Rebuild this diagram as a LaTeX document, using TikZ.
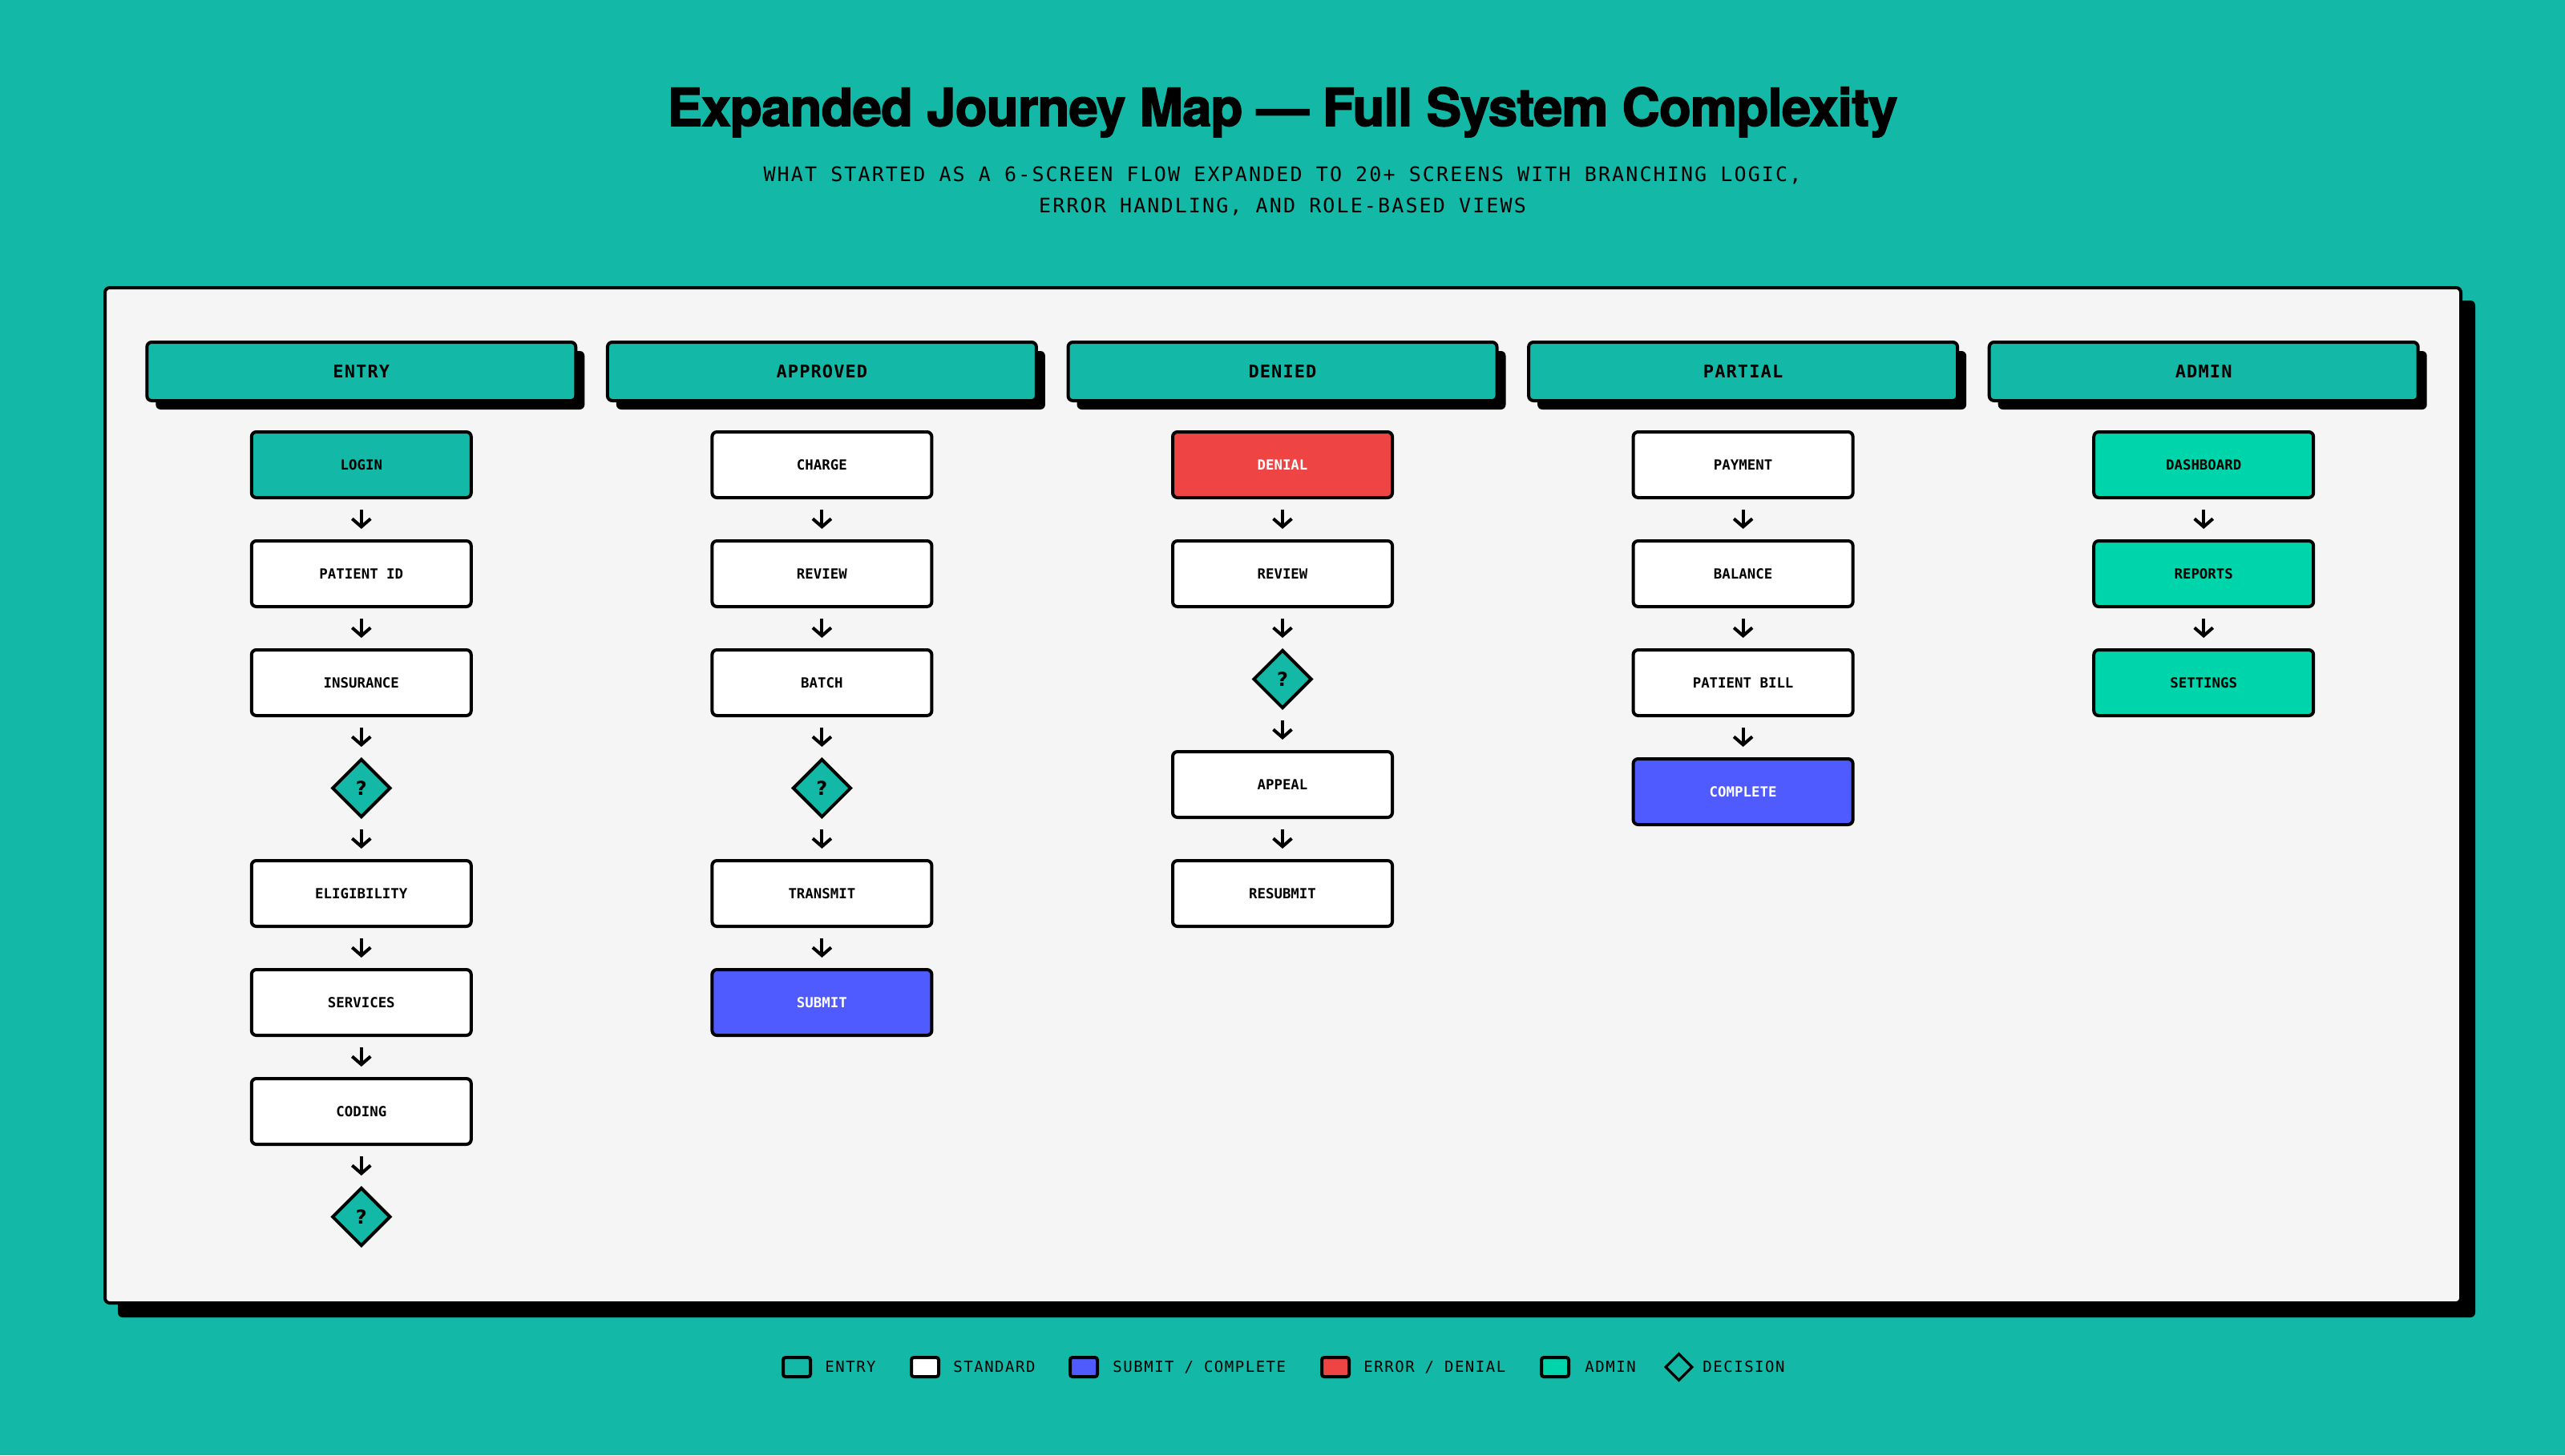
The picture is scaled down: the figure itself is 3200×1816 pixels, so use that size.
\documentclass[tikz,border=0pt]{standalone}
\usepackage{fontspec}
\usetikzlibrary{shapes.geometric,arrows.meta,shadows}
\newfontfamily\titlefont{TeX Gyre Heros}[BoldFeatures={FakeBold=2.5}, LetterSpace=-1]
\newfontfamily\boxfont{DejaVu Sans Mono}
\newfontfamily\subfont{DejaVu Sans Mono}[LetterSpace=8.5]
\newfontfamily\headfont{DejaVu Sans Mono}[LetterSpace=5]
\newfontfamily\legfont{DejaVu Sans Mono}[LetterSpace=8]
\newfontfamily\qfont{DejaVu Sans}
\definecolor{bgteal}{HTML}{14B8A6}
\definecolor{panelbg}{HTML}{F5F5F5}
\definecolor{subblue}{HTML}{4F5BFF}
\definecolor{errred}{HTML}{EF4444}
\definecolor{admingreen}{HTML}{00D4AA}
\tikzset{
  screen/.style={draw=black, line width=2pt, rounded corners=3pt, minimum width=137pt, minimum height=41pt, inner sep=0pt, font=\boxfont\bfseries\fontsize{8.7}{10}\selectfont},
  stdbox/.style={screen, fill=white},
  entrybox/.style={screen, fill=bgteal},
  subbox/.style={screen, fill=subblue, text=white},
  errbox/.style={screen, fill=errred, text=white},
  adminbox/.style={screen, fill=admingreen},
  colhead/.style={draw=black, line width=2pt, rounded corners=3pt, fill=bgteal, minimum width=267.5pt, minimum height=36.5pt, inner sep=0pt, font=\headfont\bfseries\fontsize{11}{13}\selectfont, drop shadow={shadow xshift=5.5pt, shadow yshift=-5.5pt, fill=black, opacity=1}},
  decision/.style={diamond, draw=black, line width=2pt, fill=bgteal, minimum width=36.5pt, minimum height=36.5pt, inner sep=0pt, font=\qfont\bfseries\fontsize{12}{14}\selectfont},
  flow/.style={line width=2pt, -{Straight Barb[length=5pt,width=11.5pt]}, shorten <=6.5pt, shorten >=6.5pt},
  swatch/.style={draw=black, line width=2pt, rounded corners=1.5pt, minimum width=17pt, minimum height=12pt, inner sep=0pt},
  legdiamond/.style={diamond, draw=black, line width=1.6pt, minimum width=17pt, minimum height=17pt, inner sep=0pt},
  leglabel/.style={anchor=west, inner sep=0pt, font=\legfont\fontsize{9.5}{11}\selectfont},
}
\begin{document}
\begin{tikzpicture}[x=0.5pt,y=-0.5pt]
\fill[bgteal] (0,0) rectangle (3200,1816);
\useasboundingbox (0,0) rectangle (3200,1816);
% title
\node[font=\titlefont\bfseries\fontsize{32.5}{36}\selectfont, anchor=base, inner sep=0pt] (title) at (1600,157) {Expanded Journey Map — Full System Complexity};
\node[font=\subfont\fontsize{12.5}{14}\selectfont, anchor=base, inner sep=0pt] (sub1) at (1600,226) {WHAT STARTED AS A 6-SCREEN FLOW EXPANDED TO 20+ SCREENS WITH BRANCHING LOGIC,};
\node[font=\subfont\fontsize{12.5}{14}\selectfont, anchor=base, inner sep=0pt] (sub2) at (1600,265) {ERROR HANDLING, AND ROLE-BASED VIEWS};
% panel
\fill[black, rounded corners=3pt] (147,375) rectangle (3088,1644);
\draw[line width=2pt, fill=panelbg, rounded corners=3pt] (131,359) rectangle (3070,1626);
% headers
\node[colhead] (hentry) at (450.8,463.5) {ENTRY};
\node[colhead] (happr) at (1025.4,463.5) {APPROVED};
\node[colhead] (hden) at (1600,463.5) {DENIED};
\node[colhead] (hpart) at (2174.6,463.5) {PARTIAL};
\node[colhead] (hadm) at (2749.2,463.5) {ADMIN};
% entry column
\node[entrybox] (e1) at (450.8,580) {LOGIN};
\node[stdbox] (e2) at (450.8,716) {PATIENT ID};
\node[stdbox] (e3) at (450.8,852) {INSURANCE};
\node[decision] (e4) at (450.8,983.5) {?};
\node[stdbox] (e5) at (450.8,1115) {ELIGIBILITY};
\node[stdbox] (e6) at (450.8,1251) {SERVICES};
\node[stdbox] (e7) at (450.8,1387) {CODING};
\node[decision] (e8) at (450.8,1518.5) {?};
% approved column
\node[stdbox] (a1) at (1025.4,580) {CHARGE};
\node[stdbox] (a2) at (1025.4,716) {REVIEW};
\node[stdbox] (a3) at (1025.4,852) {BATCH};
\node[decision] (a4) at (1025.4,983.5) {?};
\node[stdbox] (a5) at (1025.4,1115) {TRANSMIT};
\node[subbox] (a6) at (1025.4,1251) {SUBMIT};
% denied column
\node[errbox] (d1) at (1600,580) {DENIAL};
\node[stdbox] (d2) at (1600,716) {REVIEW};
\node[decision] (d3) at (1600,847.5) {?};
\node[stdbox] (d4) at (1600,979) {APPEAL};
\node[stdbox] (d5) at (1600,1115) {RESUBMIT};
% partial column
\node[stdbox] (p1) at (2174.6,580) {PAYMENT};
\node[stdbox] (p2) at (2174.6,716) {BALANCE};
\node[stdbox] (p3) at (2174.6,852) {PATIENT BILL};
\node[subbox] (p4) at (2174.6,988) {COMPLETE};
% admin column
\node[adminbox] (m1) at (2749.2,580) {DASHBOARD};
\node[adminbox] (m2) at (2749.2,716) {REPORTS};
\node[adminbox] (m3) at (2749.2,852) {SETTINGS};
% flows
\foreach \s/\t in {e1/e2,e2/e3,e3/e4,e4/e5,e5/e6,e6/e7,e7/e8,a1/a2,a2/a3,a3/a4,a4/a5,a5/a6,d1/d2,d2/d3,d3/d4,d4/d5,p1/p2,p2/p3,p3/p4,m1/m2,m2/m3}
  \draw[flow] (\s.south) -- (\t.north);
% legend
\node[swatch, fill=bgteal] (lg1) at (994,1706) {};
\node[leglabel] (lt1) at (1029,1706) {ENTRY};
\node[swatch, fill=white] (lg2) at (1154,1706) {};
\node[leglabel] (lt2) at (1189,1706) {STANDARD};
\node[swatch, fill=subblue] (lg3) at (1352,1706) {};
\node[leglabel] (lt3) at (1388,1706) {SUBMIT / COMPLETE};
\node[swatch, fill=errred] (lg4) at (1666,1706) {};
\node[leglabel] (lt4) at (1701,1706) {ERROR / DENIAL};
\node[swatch, fill=admingreen] (lg5) at (1940,1706) {};
\node[leglabel] (lt5) at (1977,1706) {ADMIN};
\node[legdiamond] (lg6) at (2094.5,1706) {};
\node[leglabel] (lt6) at (2124,1706) {DECISION};
\end{tikzpicture}
\end{document}
